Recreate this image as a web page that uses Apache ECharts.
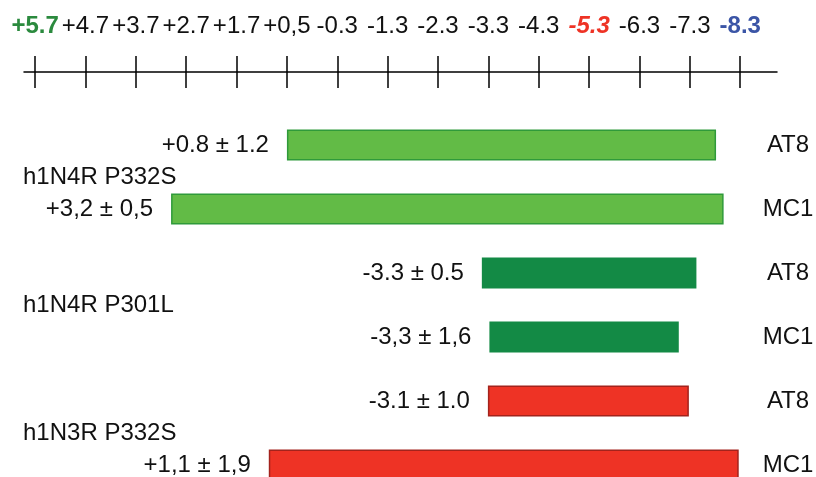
<!DOCTYPE html>
<html>
<head>
<meta charset="utf-8">
<script src="https://cdn.jsdelivr.net/npm/echarts@6/dist/echarts.min.js"></script>
<style>
  html, body { margin: 0; padding: 0; background: #fff; }
  #chart { width: 816px; height: 477px; }
</style>
</head>
<body>
<div id="chart"></div>
<script>
// scale labels along the top axis (one per tick, tick i sits at axis value i)
const tickLabels = ['+5.7', '+4.7', '+3.7', '+2.7', '+1.7', '+0,5', '-0.3', '-1.3', '-2.3', '-3.3', '-4.3', '-5.3', '-6.3', '-7.3', '-8.3']
const tickStyle = ['g', '', '', '', '', '', '', '', '', '', '', 'r', '', '', 'b']
const tickValues = tickLabels.map((_, i) => i)

// one row per bar, top to bottom
const rowLabels = ['AT8', 'MC1', 'AT8', 'MC1', 'AT8', 'MC1']
const valueLabels = ['+0.8 ± 1.2', '+3,2 ± 0,5', '-3.3 ± 0.5', '-3,3 ± 1,6', '-3.1 ± 1.0', '+1,1 ± 1,9']
const barStart = [5.0, 2.7, 8.87, 9.02, 8.99, 4.64]
const barEnd = [13.52, 13.67, 13.13, 12.78, 12.98, 13.97]
const barKind = ['light', 'light', 'dark', 'dark', 'red', 'red']

// construct names, placed between their two rows
const groups = ['h1N4R P332S', 'h1N4R P301L', 'h1N3R P332S']
const groupPos = [0.5, 2.5, 4.5]

const kinds = {
  light: { color: '#62bb46', borderColor: '#2f9a3a', borderWidth: 1.5 },
  dark: { color: '#138a45', borderColor: '#138a45', borderWidth: 0 },
  red: { color: '#ee3325', borderColor: '#a3231c', borderWidth: 1.5 },
}

const font = '"Liberation Sans", Arial, sans-serif'
const fs = 24
const xMin = -0.22
const xMax = 14.73

const chart = echarts.init(document.getElementById('chart'), null, { renderer: 'canvas' })

const option = {
  animation: false,
  backgroundColor: '#fff',
  grid: { left: 24, right: 39, top: 113, bottom: -20, containLabel: false, outerBoundsMode: 'none' },
  xAxis: [
    {
      type: 'value',
      position: 'top',
      offset: 41,
      min: xMin,
      max: xMax,
      axisLine: { show: true, onZero: false, lineStyle: { color: '#000', width: 1.5 } },
      axisTick: {
        show: true,
        customValues: tickValues,
        length: 16,
        lineStyle: { color: '#000', width: 1.5 },
      },
      axisLabel: {
        show: true,
        customValues: tickValues,
        margin: 34,
        fontFamily: font,
        fontSize: fs,
        color: '#111',
        formatter: (v) => {
          const i = Math.round(v)
          const s = tickStyle[i]
          return s ? '{' + s + '|' + tickLabels[i] + '}' : tickLabels[i]
        },
        rich: {
          g: { color: '#2b8a3e', fontWeight: 'bold', fontFamily: font, fontSize: fs },
          r: { color: '#ee3325', fontWeight: 'bold', fontStyle: 'italic', fontFamily: font, fontSize: fs },
          b: { color: '#3b55a6', fontWeight: 'bold', fontFamily: font, fontSize: fs },
        },
      },
      splitLine: { show: false },
    },
    {
      // second axis on the same line, ticks pointing down so they cross the line
      type: 'value',
      position: 'top',
      offset: 41,
      min: xMin,
      max: xMax,
      axisLine: { show: false, onZero: false },
      axisTick: {
        show: true,
        inside: true,
        customValues: tickValues,
        length: 16,
        lineStyle: { color: '#000', width: 1.5 },
      },
      axisLabel: { show: false },
      splitLine: { show: false },
    },
  ],
  yAxis: [
    {
      type: 'category',
      position: 'right',
      inverse: true,
      data: rowLabels,
      axisLine: { show: false },
      axisTick: { show: false },
      axisLabel: {
        margin: 11,
        align: 'center',
        fontFamily: font,
        fontSize: fs,
        color: '#111',
      },
    },
    {
      type: 'value',
      position: 'left',
      inverse: true,
      min: -0.5,
      max: 5.5,
      axisLine: { show: false, onZero: false },
      axisTick: { show: false },
      splitLine: { show: false },
      axisLabel: {
        customValues: groupPos,
        margin: 1,
        align: 'left',
        fontFamily: font,
        fontSize: fs,
        color: '#111',
        formatter: (v) => groups[groupPos.indexOf(v)] || '',
      },
    },
  ],
  series: [
    {
      // invisible base so the visible bar starts at barStart
      type: 'bar',
      stack: 'span',
      yAxisIndex: 0,
      barWidth: 31,
      silent: true,
      itemStyle: { color: 'transparent' },
      data: barStart,
    },
    {
      type: 'bar',
      stack: 'span',
      yAxisIndex: 0,
      barWidth: 31,
      data: barEnd.map((e, i) => ({
        value: +(e - barStart[i]).toFixed(2),
        itemStyle: kinds[barKind[i]],
      })),
      label: {
        show: true,
        position: 'left',
        distance: 18,
        fontFamily: font,
        fontSize: fs,
        color: '#111',
        formatter: (p) => valueLabels[p.dataIndex],
      },
    },
  ],
}

chart.setOption(option)
</script>
</body>
</html>
